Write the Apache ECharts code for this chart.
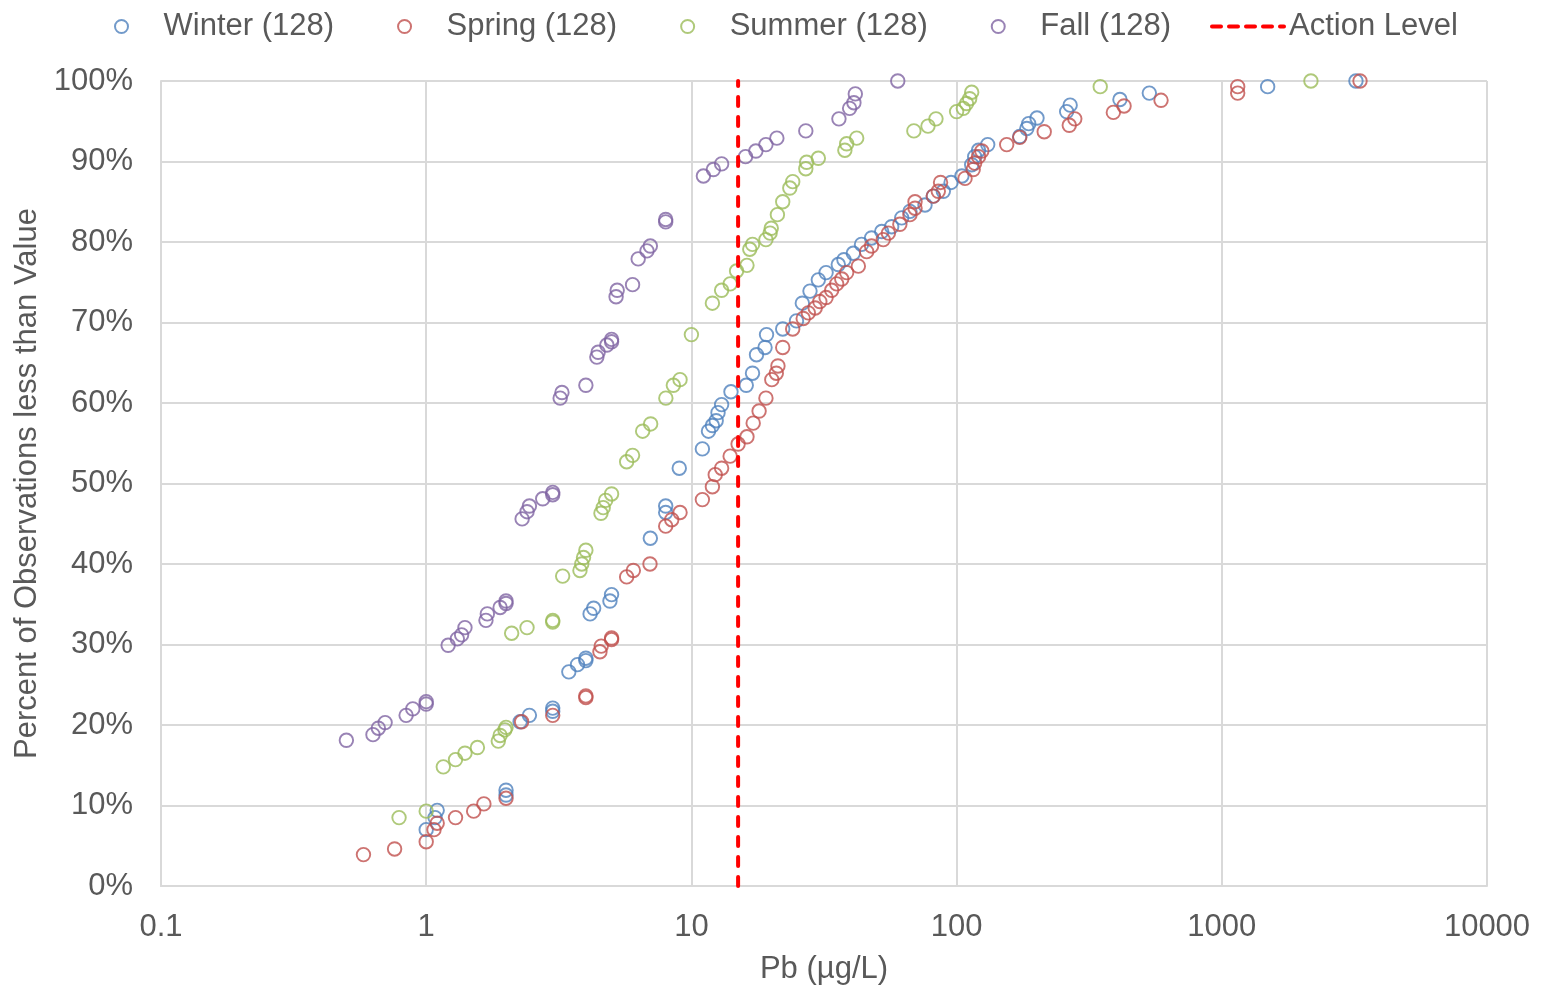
<!DOCTYPE html>
<html>
<head>
<meta charset="utf-8">
<title>Pb distribution by season</title>
<script src="https://cdn.jsdelivr.net/npm/echarts@6/dist/echarts.min.js"></script>
<style>
  html, body { margin: 0; padding: 0; background: #ffffff; overflow: hidden; }
  #chart { width: 1547px; height: 990px; }
</style>
</head>
<body>
<div id="chart"></div>
<script>
// Pb concentration (µg/L) vs. cumulative percent of observations, per season
const winter = [
  [1.0, 7.0], [1.08, 8.5], [1.10, 9.4], [2.0, 11.3], [2.0, 11.9],
  [2.26, 20.4], [2.45, 21.2], [3.0, 21.7], [3.0, 22.1],
  [3.45, 26.6], [3.72, 27.5], [4.0, 28.0], [4.0, 28.3], [4.15, 33.8], [4.28, 34.5], [4.93, 35.4], [5.0, 36.2],
  [7.0, 43.2], [8.0, 46.4], [8.0, 47.2], [9.0, 51.9], [11.0, 54.3], [11.6, 56.5], [12.0, 57.2], [12.4, 57.8],
  [12.6, 58.8], [13.0, 59.8], [14.1, 61.4], [16.1, 62.2], [17.0, 63.7], [17.6, 66.0], [18.95, 66.9], [19.2, 68.5],
  [22.1, 69.2], [24.9, 70.2], [26.2, 72.4], [28.0, 73.9], [30.1, 75.3], [32.2, 76.2], [35.8, 77.2], [37.6, 77.8],
  [40.8, 78.6], [43.8, 79.7], [47.8, 80.5], [52.2, 81.3], [56.9, 81.9], [62.1, 83.0], [66.7, 83.8], [76.0, 84.6],
  [81.7, 85.7], [89.1, 86.3], [95.3, 87.4], [104.7, 88.2], [114, 89.6], [117, 90.6], [121, 91.4], [131, 92.1],
  [173, 93.1], [184, 94.1], [187, 94.7], [201, 95.4], [260, 96.2], [268, 97.0], [413, 97.7], [533, 98.5],
  [1489, 99.3], [3205, 100]
];
const spring = [
  [0.58, 3.9], [0.76, 4.6], [1.0, 5.5], [1.07, 7.0], [1.10, 7.8], [1.29, 8.5], [1.51, 9.3], [1.65, 10.2], [2.0, 10.9],
  [2.29, 20.4], [3.0, 21.2], [4.0, 23.4], [4.0, 23.6],
  [4.52, 29.1], [4.57, 29.8], [5.0, 30.6], [5.0, 30.8],
  [5.70, 38.4], [6.04, 39.2], [6.98, 40.0],
  [8.0, 44.7], [8.43, 45.5], [9.06, 46.4], [11.0, 48.0], [12.0, 49.6], [12.3, 51.1], [13.0, 51.9], [14.0, 53.4],
  [15.0, 54.9], [16.2, 55.8], [17.1, 57.5], [18.0, 59.0], [19.1, 60.6], [20.1, 62.9], [20.9, 63.7], [21.2, 64.6],
  [22.1, 66.9], [24.1, 69.2], [26.4, 70.5], [27.6, 71.2], [29.3, 71.8], [30.5, 72.6], [32.2, 73.1], [33.8, 74.0],
  [35.3, 74.8], [36.9, 75.4], [38.5, 76.2], [42.6, 77.0], [45.8, 78.8], [47.8, 79.5], [52.9, 80.3], [55.3, 81.1],
  [61.1, 82.2], [66.7, 83.4], [69.7, 84.2], [69.7, 85.0], [81.7, 85.7], [85.3, 86.3], [87.0, 87.4], [107.6, 87.9],
  [115.5, 89.0], [117, 89.8], [121, 90.6], [124.5, 91.3], [154.5, 92.1], [173, 93.0], [214, 93.7], [266, 94.5],
  [279, 95.3], [390, 96.1], [428, 96.9], [590, 97.6], [1148, 98.5], [1148, 99.3], [3320, 100]
];
const summer = [
  [0.79, 8.5], [1.0, 9.3], [1.16, 14.8], [1.29, 15.7], [1.40, 16.5], [1.56, 17.2], [1.87, 18.0], [1.90, 18.7],
  [1.98, 19.4], [2.0, 19.7],
  [2.10, 31.4], [2.40, 32.1], [3.0, 32.8], [3.0, 33.0],
  [3.27, 38.5], [3.80, 39.2], [3.86, 40.0], [3.92, 40.8], [4.0, 41.7],
  [4.56, 46.3], [4.65, 47.0], [4.75, 47.9], [5.0, 48.7],
  [5.70, 52.7], [6.00, 53.5], [6.55, 56.5], [7.02, 57.4], [8.01, 60.6], [8.55, 62.2], [9.06, 62.9], [10.0, 68.5],
  [12.0, 72.4], [13.0, 74.0], [14.0, 74.8], [14.8, 76.4], [16.2, 77.1], [16.6, 79.1], [17.0, 79.7], [19.1, 80.3],
  [19.8, 81.1], [20.0, 81.7], [21.1, 83.4], [22.1, 85.0], [23.5, 86.7], [24.1, 87.5], [27.0, 89.1], [27.2, 89.9],
  [30.1, 90.4], [37.9, 91.4], [38.5, 92.2], [42.0, 92.9], [69, 93.8], [78, 94.4], [83.6, 95.3], [100, 96.2],
  [106, 96.6], [109, 97.2], [112, 97.8], [114, 98.6], [348, 99.3], [2168, 100]
];
const fall = [
  [0.50, 18.1], [0.63, 18.8], [0.66, 19.6], [0.70, 20.3], [0.84, 21.2], [0.89, 22.0], [1.0, 22.6], [1.0, 22.9],
  [1.21, 29.9], [1.31, 30.7], [1.36, 31.2], [1.40, 32.1], [1.68, 33.0], [1.70, 33.8], [1.90, 34.6], [2.0, 35.1], [2.0, 35.4],
  [2.30, 45.6], [2.40, 46.5], [2.45, 47.2], [2.75, 48.1], [3.0, 48.6], [3.0, 48.9],
  [3.20, 60.6], [3.25, 61.3], [4.0, 62.2], [4.40, 65.7], [4.45, 66.3], [4.80, 67.2], [5.0, 67.6], [5.0, 67.9],
  [5.20, 73.2], [5.25, 74.0], [6.0, 74.7], [6.3, 77.9], [6.8, 78.9], [7.0, 79.5], [8.0, 82.5], [8.0, 82.8],
  [11.1, 88.2], [12.1, 89.0], [13.0, 89.7], [16.0, 90.6], [17.5, 91.3], [19.1, 92.1], [21.0, 92.9], [27.0, 93.8],
  [36, 95.3], [39.5, 96.6], [41, 97.3], [41.5, 98.4], [60, 100]
];
const actionLevel = 15;                 // µg/L
const seasonNames = ['Winter (128)', 'Spring (128)', 'Summer (128)', 'Fall (128)'];
const seasonColors = ['#4F81BD', '#C0504D', '#9BBB59', '#8064A2'];
const xTickLabels = ['0.1', '1', '10', '100', '1000', '10000'];

const FONT = '"Liberation Sans", Arial, sans-serif';
const TEXT = '#595959';
const GRID = '#D9D9D9';

const chart = echarts.init(document.getElementById('chart'), null, { renderer: 'canvas' });

const seasonSeries = [winter, spring, summer, fall].map((data, i) => ({
  name: seasonNames[i],
  type: 'scatter',
  data: data,
  symbol: 'circle',
  symbolSize: 13.5,
  itemStyle: { color: 'rgba(255,255,255,0)', borderColor: seasonColors[i], borderWidth: 1.9 },
  emphasis: { disabled: true },
  z: 2 + i
}));

const legendText = { fontSize: 31, color: TEXT, fontFamily: FONT };
const actionDash = { color: '#FF0000', width: 4, type: [9, 11], cap: 'round' };

chart.setOption({
  animation: false,
  backgroundColor: '#ffffff',
  textStyle: { fontFamily: FONT },
  legend: [
    {
      left: 109, top: 6,
      itemWidth: 74, itemHeight: 13, itemGap: 63,
      textStyle: legendText,
      data: seasonNames
    },
    {
      left: 1205, top: 6,
      itemWidth: 72, itemHeight: 13,
      textStyle: legendText,
      lineStyle: { width: 4, type: [9, 8], cap: 'round' },
      data: [{ name: 'Action Level', itemStyle: { color: 'rgba(0,0,0,0)', borderWidth: 0, opacity: 0 } }]
    }
  ],
  grid: { left: 161, top: 81, width: 1326, height: 807, containLabel: false },
  xAxis: {
    type: 'log', logBase: 10, min: 0.1, max: 10000,
    name: 'Pb (µg/L)', nameLocation: 'middle', nameGap: 68,
    nameTextStyle: { fontSize: 31, color: TEXT, fontFamily: FONT },
    axisLine: { show: true, lineStyle: { color: GRID, width: 2 } },
    axisTick: { show: false },
    minorTick: { show: false },
    splitLine: { show: true, lineStyle: { color: GRID, width: 2 } },
    axisLabel: {
      fontSize: 31, color: TEXT, fontFamily: FONT, margin: 26,
      formatter: (v) => {
        const k = Math.round(Math.log10(v)) + 1;
        return xTickLabels[k] !== undefined ? xTickLabels[k] : '';
      }
    }
  },
  yAxis: {
    type: 'value', min: 0, max: 100, interval: 10,
    name: 'Percent of Observations less than Value', nameLocation: 'middle', nameGap: 118,
    nameTextStyle: { fontSize: 31, color: TEXT, fontFamily: FONT },
    axisLine: { show: true, lineStyle: { color: GRID, width: 2 } },
    axisTick: { show: false },
    splitLine: { show: true, lineStyle: { color: GRID, width: 2 } },
    axisLabel: { fontSize: 31, color: TEXT, fontFamily: FONT, margin: 28, formatter: '{value}%' }
  },
  series: seasonSeries.concat([{
    name: 'Action Level',
    type: 'line',
    data: [[actionLevel, 0], [actionLevel, 100]],
    symbol: 'none',
    lineStyle: actionDash,
    itemStyle: { color: '#FF0000' },
    emphasis: { disabled: true },
    z: 10
  }])
});
</script>
</body>
</html>
